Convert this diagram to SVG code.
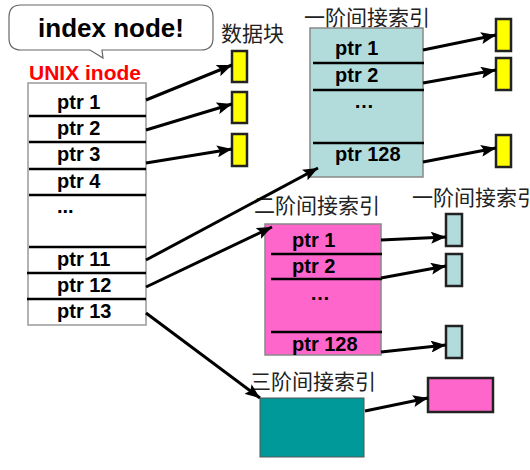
<svg xmlns="http://www.w3.org/2000/svg" width="530" height="470" viewBox="0 0 530 470">
<style>
.ptr{font-family:"Liberation Sans",Arial,sans-serif;font-weight:bold;font-size:20px;fill:#000}
.cn{font-family:"Noto Sans CJK SC","Noto Sans",sans-serif;font-size:21px;fill:#222}
.sep{stroke:#000;stroke-width:2.5}
.conn{stroke:#000;stroke-width:3;fill:none;marker-end:url(#ah)}
.yb{fill:#ffff00;stroke:#222;stroke-width:2.5}
.lb{fill:#b2dcdc;stroke:#222;stroke-width:2.5}
</style>
<defs>
<marker id="ah" markerUnits="userSpaceOnUse" markerWidth="16" markerHeight="12" refX="15" refY="6" orient="auto">
<path d="M0,0 L15,6 L0,12 L3,6 Z" fill="#000"/>
</marker>
</defs>
<rect width="530" height="470" fill="#fff"/>

<g id="callout">
<path d="M21,5 H201 Q213,5 213,17 V38 Q213,50 201,50 H102 L103,58 L90,50 H21 Q9,50 9,38 V17 Q9,5 21,5 Z" fill="#fff" stroke="#666" stroke-width="1.2"/>
<text x="111" y="37" text-anchor="middle" style="font-family:'Liberation Sans',Arial,sans-serif;font-weight:bold;font-size:26px">index node!</text>
</g>

<g id="inode">
<text x="29" y="80" style="font-family:'Liberation Sans',Arial,sans-serif;font-weight:bold;font-size:21px;fill:#ff0000">UNIX inode</text>
<rect x="28" y="83" width="118" height="242" fill="#fff" stroke="#999" stroke-width="1.5"/>
<line class="sep" x1="29" y1="116" x2="146" y2="116"/>
<line class="sep" x1="29" y1="142" x2="146" y2="142"/>
<line class="sep" x1="29" y1="169" x2="146" y2="169"/>
<line class="sep" x1="29" y1="195" x2="146" y2="195"/>
<line class="sep" x1="29" y1="247" x2="146" y2="247"/>
<line class="sep" x1="27" y1="273" x2="146" y2="273"/>
<line class="sep" x1="27" y1="299" x2="146" y2="299"/>
<text class="ptr" x="57" y="109">ptr 1</text>
<text class="ptr" x="57" y="135">ptr 2</text>
<text class="ptr" x="57" y="161">ptr 3</text>
<text class="ptr" x="57" y="188">ptr 4</text>
<text class="ptr" x="57" y="213">...</text>
<text class="ptr" x="57" y="266">ptr 11</text>
<text class="ptr" x="57" y="292">ptr 12</text>
<text class="ptr" x="57" y="318">ptr 13</text>
</g>

<g id="data-blocks">
<text class="cn" x="221" y="41">数据块</text>
<rect class="yb" x="232" y="51" width="15" height="31"/>
<rect class="yb" x="232" y="92" width="15" height="31"/>
<rect class="yb" x="232" y="134" width="15" height="32"/>
</g>

<g id="single-indirect">
<text class="cn" x="304" y="25">一阶间接索引</text>
<rect x="310" y="28" width="113" height="149" fill="#b2dcdc" stroke="#888" stroke-width="1.5"/>
<line class="sep" x1="313" y1="63" x2="424" y2="63"/>
<line class="sep" x1="313" y1="90" x2="424" y2="90"/>
<line class="sep" x1="313" y1="143" x2="424" y2="143"/>
<text class="ptr" x="335" y="55">ptr 1</text>
<text class="ptr" x="335" y="82">ptr 2</text>
<text class="ptr" x="354" y="108">…</text>
<text class="ptr" x="335" y="161">ptr 128</text>
</g>

<g id="single-blocks">
<rect class="yb" x="496" y="19" width="15" height="32"/>
<rect class="yb" x="496" y="58" width="15" height="32"/>
<rect class="yb" x="496" y="135" width="15" height="32"/>
</g>

<g id="double-indirect">
<text class="cn" x="254" y="213">二阶间接索引</text>
<rect x="265" y="224" width="116" height="131" fill="#ff66cc" stroke="#888" stroke-width="1.5"/>
<line class="sep" x1="271" y1="254" x2="382" y2="254"/>
<line class="sep" x1="271" y1="279" x2="382" y2="279"/>
<line class="sep" x1="271" y1="332" x2="382" y2="332"/>
<text class="ptr" x="292" y="247">ptr 1</text>
<text class="ptr" x="292" y="273">ptr 2</text>
<text class="ptr" x="310" y="300">…</text>
<text class="ptr" x="292" y="351">ptr 128</text>
</g>

<g id="double-blocks">
<text class="cn" x="412" y="205">一阶间接索引</text>
<rect class="lb" x="446" y="214" width="16" height="32"/>
<rect class="lb" x="446" y="254" width="16" height="32"/>
<rect class="lb" x="446" y="326" width="16" height="32"/>
</g>

<g id="triple-indirect">
<text class="cn" x="250" y="389">三阶间接索引</text>
<rect x="260" y="398" width="104" height="59" fill="#009999" stroke="#555" stroke-width="1"/>
</g>

<g id="triple-block">
<rect x="428" y="378" width="65" height="34" fill="#ff66cc" stroke="#222" stroke-width="2.5"/>
</g>

<g id="connectors">
<line class="conn" x1="146" y1="100" x2="232" y2="65"/>
<line class="conn" x1="146" y1="130" x2="232" y2="104"/>
<line class="conn" x1="146" y1="163" x2="232" y2="149"/>
<line class="conn" x1="423" y1="50" x2="496" y2="35"/>
<line class="conn" x1="423" y1="83" x2="496" y2="70"/>
<line class="conn" x1="423" y1="162" x2="496" y2="148"/>
<line class="conn" x1="146" y1="260" x2="318" y2="168"/>
<line class="conn" x1="146" y1="287" x2="272" y2="227"/>
<line class="conn" x1="146" y1="313" x2="260" y2="398"/>
<line class="conn" x1="381" y1="240" x2="446" y2="237"/>
<line class="conn" x1="381" y1="278" x2="446" y2="266"/>
<line class="conn" x1="381" y1="352" x2="446" y2="345"/>
<line class="conn" x1="365" y1="411" x2="428" y2="398"/>
</g>
</svg>
